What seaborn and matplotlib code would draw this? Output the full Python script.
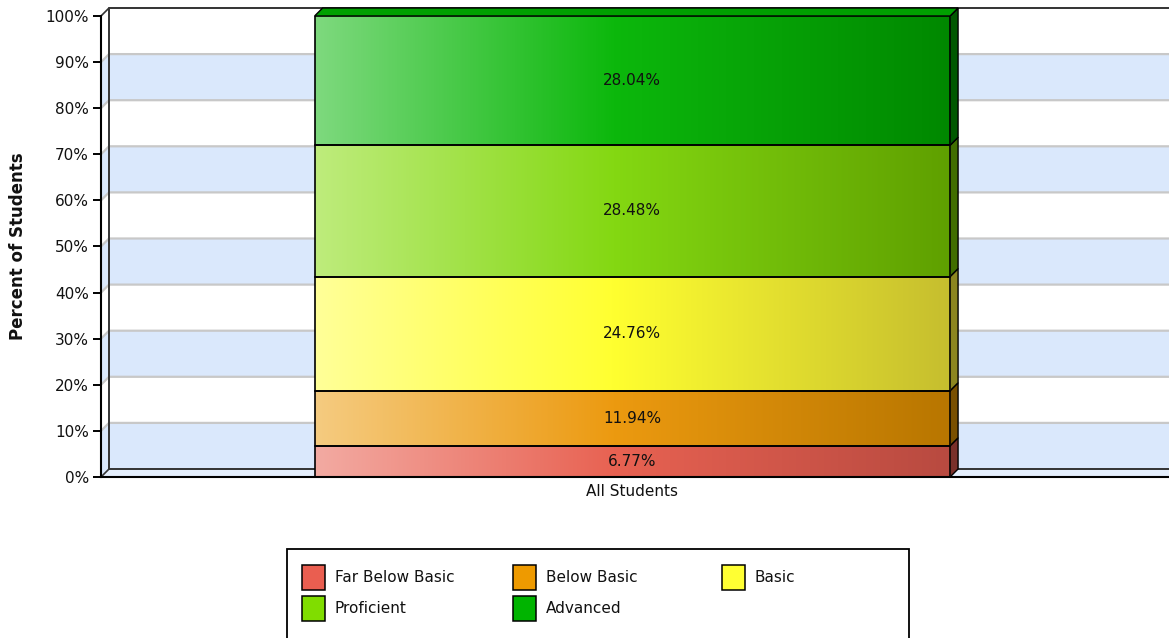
import numpy as np
import pandas as pd
import matplotlib
matplotlib.use("Agg")
import matplotlib.pyplot as plt
import seaborn as sns
from matplotlib.colors import LinearSegmentedColormap
from matplotlib.patches import Polygon, Rectangle
from matplotlib.lines import Line2D
import matplotlib.transforms as mtrans

# ---------------- data ----------------
category = ["All Students"]
levels = ["Far Below Basic", "Below Basic", "Basic", "Proficient", "Advanced"]
values = [6.77, 11.94, 24.76, 28.48, 28.04]
yticks = [0, 10, 20, 30, 40, 50, 60, 70, 80, 90, 100]
ytick_labels = ["0%", "10%", "20%", "30%", "40%", "50%", "60%", "70%", "80%", "90%", "100%"]

# ---------------- styles ----------------
legend_colors = ["#EA5E50", "#EE9A00", "#FFFF33", "#80DD00", "#00B400"]
grad_stops = [
    ["#F3AAA2", "#E86252", "#B84A40"],
    ["#F5CB80", "#EC9A10", "#B87600"],
    ["#FFFF98", "#FFFF30", "#C6BE2E"],
    ["#BEEC7C", "#84D812", "#5FA000"],
    ["#7ED97E", "#0CB80C", "#008800"],
]
side_colors = ["#7A302A", "#7A5000", "#8C8620", "#416E00", "#005800"]
top_color = "#00A000"
band_blue = "#DAE8FC"
grid_gray = "#C8C8C8"

sns.set_theme(style="white")
plt.rcParams["font.family"] = ["DejaVu Sans"]

W, H = 1169, 638
fig = plt.figure(figsize=(W / 100, H / 100), dpi=100)
fig.patch.set_facecolor("white")
ax = fig.add_axes([101 / W, (H - 477) / H, (W - 101) / W, (477 - 16) / H])
ax.set_facecolor("none")
ax.set_zorder(2)

df = pd.DataFrame({"category": category * len(levels),
                   "level": levels,
                   "value": values})
bottoms = np.concatenate([[0], np.cumsum(values)[:-1]])

bar_patches = []
for i, (lvl, val, bot) in enumerate(zip(levels, values, bottoms)):
    sub = df[df["level"] == lvl]
    sns.barplot(data=sub, x="category", y="value", bottom=bot, width=0.595,
                color=legend_colors[i], saturation=1, edgecolor="black",
                linewidth=1.2, ax=ax, zorder=4, errorbar=None)
    bar_patches.append(ax.patches[-1])

XL = (-0.4975, 0.5025)
ax.set_xlim(*XL)
ax.set_ylim(0, 100)

# gradients clipped to each bar segment
grad = np.linspace(0, 1, 256).reshape(1, -1)
for i, (p, val, bot) in enumerate(zip(bar_patches, values, bottoms)):
    x0, x1 = p.get_x(), p.get_x() + p.get_width()
    cmap = LinearSegmentedColormap.from_list(
        f"g{i}", [(0, grad_stops[i][0]), (0.47, grad_stops[i][1]), (1, grad_stops[i][2])])
    im = ax.imshow(grad, extent=[x0, x1, bot, bot + val], cmap=cmap,
                   aspect="auto", zorder=3.5, interpolation="bilinear")
    im.set_clip_path(p)
    p.set_facecolor("none")
    ax.text((x0 + x1) / 2, bot + val / 2, f"{val:.2f}%", ha="center", va="center",
            fontsize=11, color="#111111", zorder=6)

ax.set_xlim(*XL)
ax.set_ylim(0, 100)

# ---------------- pseudo-3D decorations ----------------
d = 8.0
ident = mtrans.IdentityTransform()
T = ax.transData
yT = ax.get_yaxis_transform()

def P(x, y):
    return T.transform((x, y))

def PY(y):  # left edge of axes at data y
    return yT.transform((0, y))

right_edge = W + 20

# back wall bands and grid lines (behind the axes)
for k in range(10):
    y0, y1 = yticks[k], yticks[k + 1]
    a0 = PY(y0); a1 = PY(y1)
    col = band_blue if k % 2 == 0 else "white"
    fig.add_artist(Rectangle((a0[0] + d, a0[1] + d), right_edge - a0[0], a1[1] - a0[1],
                             transform=ident, facecolor=col, edgecolor="none", zorder=0.5))
    fig.add_artist(Polygon([a0, a0 + d, a1 + d, a1], closed=True, transform=ident,
                           facecolor=col, edgecolor="none", zorder=0.6))
for t in yticks[1:-1]:
    a = PY(t)
    fig.add_artist(Line2D([a[0], a[0] + d, right_edge], [a[1], a[1] + d, a[1] + d],
                          transform=ident, color=grid_gray, lw=1.6, zorder=0.7))

# floor
f0 = PY(0)
fig.add_artist(Polygon([f0, (right_edge, f0[1]), (right_edge, f0[1] + d), f0 + d],
                       closed=True, transform=ident, facecolor="#E4EEFC",
                       edgecolor="none", zorder=0.6))
# back wall frame
top = PY(100)
fig.add_artist(Line2D([right_edge, top[0] + d, top[0] + d, right_edge],
                      [top[1] + d, top[1] + d, f0[1] + d, f0[1] + d],
                      transform=ident, color="#333333", lw=1.4, zorder=0.8))
fig.add_artist(Line2D([top[0], top[0] + d], [top[1], top[1] + d],
                      transform=ident, color="#333333", lw=1.2, zorder=0.8))
fig.add_artist(Line2D([f0[0], f0[0] + d], [f0[1], f0[1] + d],
                      transform=ident, color="#333333", lw=1.2, zorder=0.8))

# bar side faces and top (behind the front faces)
for i, (p, val, bot) in enumerate(zip(bar_patches, values, bottoms)):
    x1 = p.get_x() + p.get_width()
    b = P(x1, bot); t = P(x1, bot + val)
    fig.add_artist(Polygon([b, t, t + d, b + d], closed=True, transform=ident,
                           facecolor=side_colors[i], edgecolor="black", lw=1.0, zorder=1))
pt = bar_patches[-1]
tl = P(pt.get_x(), 100); tr = P(pt.get_x() + pt.get_width(), 100)
fig.add_artist(Polygon([tl, tr, tr + d, tl + d], closed=True, transform=ident,
                       facecolor=top_color, edgecolor="black", lw=1.0, zorder=1))

# ---------------- axes styling ----------------
for s in ["top", "right"]:
    ax.spines[s].set_visible(False)
for s in ["left", "bottom"]:
    ax.spines[s].set_color("black")
    ax.spines[s].set_linewidth(1.5)
    ax.spines[s].set_zorder(5)
ax.set_yticks(yticks)
ax.set_yticklabels(ytick_labels)
ax.tick_params(axis="y", length=5.8, width=1.4, color="black", pad=3, labelsize=11,
               labelcolor="#111111", left=True)
ax.tick_params(axis="x", length=0, pad=5, labelsize=11, labelcolor="#111111")
ax.set_xlabel("")
ax.set_ylabel("Percent of Students", fontsize=12, fontweight="bold", color="#111111")
ax.yaxis.set_label_coords(-0.069, 0.5)
ax.grid(False)

# ---------------- legend ----------------
fig.add_artist(Rectangle((287 / W, -0.02), (909 - 287) / W, (H - 549) / H + 0.02,
                         transform=fig.transFigure, facecolor="white",
                         edgecolor="black", lw=1.3, zorder=3))
col_x = [302, 513, 722]
row_y = [565, 596]
for i, lvl in enumerate(levels):
    cx = col_x[i % 3]; ry = row_y[i // 3]
    fig.add_artist(Rectangle((cx / W, (H - ry - 25) / H), 23 / W, 25 / H,
                             transform=fig.transFigure, facecolor=legend_colors[i],
                             edgecolor="black", lw=1.1, zorder=4))
    fig.text((cx + 33) / W, (H - ry - 12.5) / H, lvl, ha="left", va="center",
             fontsize=11, color="#111111", zorder=5)

fig.savefig("out.png", dpi=100)
